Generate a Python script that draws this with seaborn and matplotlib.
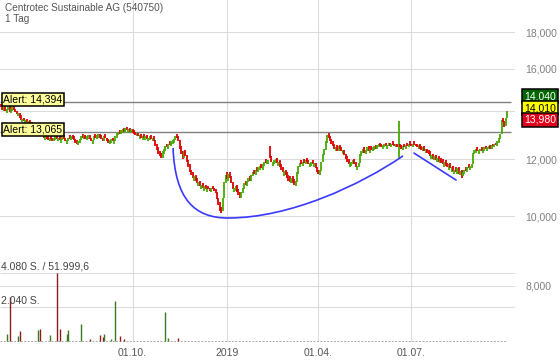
import matplotlib
matplotlib.use("Agg")
import matplotlib.pyplot as plt
from matplotlib.path import Path
from matplotlib.patches import PathPatch
from matplotlib.ticker import FixedLocator, NullLocator
import numpy as np
import pandas as pd
import seaborn as sns

TITLE = "Centrotec Sustainable AG (540750)"
PERIOD = "1 Tag"
START_DATE = "2018-05-24"

# daily open / close, one row = 10 trading days
OPENS = [
    14.3, 14.25, 14.0, 14.25, 13.9, 14.05, 14.2, 13.9, 14.0, 14.25,
    14.1, 14.0, 13.75, 13.9, 13.8, 13.5, 13.7, 13.45, 13.65, 13.4,
    13.6, 13.35, 13.5, 13.4, 13.15, 13.3, 13.0, 13.2, 13.1, 12.9,
    13.05, 12.75, 12.95, 12.9, 12.7, 12.95, 12.85, 12.7, 12.75, 12.95,
    12.7, 12.9, 12.65, 12.75, 12.95, 12.85, 12.6, 12.7, 12.95, 12.75,
    12.95, 12.9, 12.8, 12.75, 12.55, 12.65, 12.75, 13.0, 12.8, 12.95,
    12.75, 12.8, 12.95, 12.85, 12.6, 12.75, 13.0, 12.8, 12.85, 13.0,
    12.95, 12.85, 12.7, 13.0, 12.85, 12.8, 12.6, 12.65, 12.85, 12.6,
    12.7, 12.85, 12.95, 13.15, 13.0, 13.05, 13.25, 13.1, 13.3, 13.05,
    13.25, 13.05, 13.2, 13.15, 13.1, 12.9, 13.05, 12.8, 13.0, 12.75,
    13.0, 12.75, 12.95, 12.7, 12.75, 12.95, 12.7, 12.9, 12.75, 12.6,
    12.45, 12.3, 12.25, 12.05, 12.2, 12.3, 12.6, 12.4, 12.7, 12.5,
    12.6, 12.65, 12.75, 13.0, 12.9, 12.75, 12.5, 12.3, 12.05, 12.35,
    12.15, 11.95, 11.8, 11.6, 11.5, 11.2, 11.4, 11.3, 11.0, 11.2,
    10.9, 11.1, 10.85, 11.05, 10.8, 11.0, 10.95, 10.8, 11.0, 10.95,
    10.9, 10.8, 10.6, 10.45, 10.3, 10.15, 10.6, 11.1, 11.5, 11.2,
    11.5, 11.35, 11.15, 10.8, 10.85, 11.05, 10.9, 10.8, 10.6, 10.75,
    10.9, 11.2, 11.0, 11.15, 11.35, 11.2, 11.35, 11.6, 11.4, 11.7,
    11.5, 11.6, 11.8, 11.6, 11.75, 12.0, 11.8, 11.8, 12.5, 12.1,
    11.75, 11.8, 11.85, 12.05, 11.75, 11.95, 11.8, 11.7, 11.35, 11.6,
    11.5, 11.4, 11.35, 11.1, 11.35, 11.25, 11.0, 11.15, 11.45, 11.7,
    11.95, 11.75, 12.0, 11.8, 12.05, 11.95, 11.7, 11.75, 11.95, 11.7,
    11.85, 11.7, 11.6, 11.4, 11.55, 11.9, 12.15, 12.35, 12.65, 13.05,
    12.9, 12.8, 12.7, 12.6, 12.3, 12.55, 12.3, 12.55, 12.45, 12.2,
    12.35, 12.2, 12.1, 12.0, 11.7, 11.75, 11.8, 12.0, 11.9, 11.6,
    11.7, 11.85, 12.1, 12.25, 12.45, 12.2, 12.3, 12.5, 12.25, 12.5,
    12.3, 12.35, 12.55, 12.4, 12.45, 12.65, 12.6, 12.4, 12.45, 12.65,
    12.4, 12.5, 12.65, 12.45, 12.7, 12.6, 12.45, 12.6, 12.05, 12.6,
    12.55, 12.35, 12.6, 12.4, 12.65, 12.45, 12.7, 12.6, 12.45, 12.7,
    12.6, 12.6, 12.4, 12.6, 12.5, 12.3, 12.5, 12.25, 12.4, 12.35,
    12.3, 12.0, 12.2, 11.95, 12.15, 11.9, 12.1, 11.85, 12.05, 12.0,
    11.7, 11.95, 11.85, 11.6, 11.85, 11.5, 11.75, 11.45, 11.7, 11.45,
    11.7, 11.4, 11.6, 11.35, 11.45, 11.7, 11.5, 11.8, 11.6, 11.65,
    11.8, 12.2, 12.25, 12.45, 12.2, 12.3, 12.45, 12.25, 12.3, 12.5,
    12.3, 12.4, 12.55, 12.4, 12.6, 12.45, 12.65, 12.5, 12.65, 12.8,
    13.0, 13.7, 13.55, 13.35, 13.7,
]
CLOSES = [
    14.15, 14.05, 14.2, 14.0, 14.1, 14.25, 13.95, 14.1, 14.2, 14.05,
    13.95, 13.85, 13.9, 13.7, 13.6, 13.65, 13.55, 13.6, 13.5, 13.55,
    13.45, 13.5, 13.35, 13.2, 13.3, 13.1, 13.15, 13.0, 12.95, 13.05,
    12.85, 12.9, 12.8, 12.75, 12.85, 12.8, 12.7, 12.85, 12.9, 12.8,
    12.85, 12.75, 12.8, 12.9, 12.8, 12.7, 12.75, 12.85, 12.8, 12.9,
    12.8, 12.75, 12.65, 12.6, 12.7, 12.8, 12.9, 12.85, 12.95, 12.8,
    12.9, 12.95, 12.8, 12.7, 12.75, 12.9, 12.85, 12.95, 13.0, 12.85,
    12.8, 12.7, 12.9, 12.85, 12.7, 12.65, 12.75, 12.8, 12.7, 12.75,
    12.9, 13.05, 13.1, 13.0, 13.15, 13.2, 13.1, 13.25, 13.15, 13.2,
    13.1, 13.2, 13.05, 13.0, 12.95, 13.05, 12.9, 12.95, 12.85, 12.9,
    12.85, 12.9, 12.8, 12.85, 12.9, 12.8, 12.85, 12.7, 12.5, 12.35,
    12.2, 12.1, 12.05, 12.3, 12.4, 12.5, 12.45, 12.6, 12.55, 12.7,
    12.75, 12.8, 12.9, 12.85, 12.7, 12.4, 12.2, 12.0, 12.3, 12.1,
    11.9, 11.7, 11.5, 11.4, 11.3, 11.35, 11.2, 11.1, 11.15, 11.0,
    11.05, 10.95, 11.0, 10.9, 10.95, 10.9, 10.85, 10.95, 10.9, 10.85,
    10.75, 10.55, 10.35, 10.15, 10.1, 10.6, 11.15, 11.4, 11.25, 11.45,
    11.3, 11.1, 10.9, 10.95, 11.0, 10.8, 10.7, 10.6, 10.8, 10.95,
    11.1, 11.05, 11.2, 11.3, 11.2, 11.4, 11.5, 11.45, 11.6, 11.55,
    11.7, 11.75, 11.65, 11.8, 11.9, 11.85, 11.95, 11.95, 12.05, 11.9,
    11.9, 11.95, 12.0, 11.85, 11.9, 11.7, 11.6, 11.5, 11.55, 11.4,
    11.3, 11.2, 11.15, 11.3, 11.1, 11.05, 11.2, 11.5, 11.75, 11.85,
    11.8, 11.9, 11.85, 11.95, 11.9, 11.8, 11.85, 11.9, 11.8, 11.85,
    11.65, 11.5, 11.45, 11.6, 11.9, 12.2, 12.4, 12.7, 12.95, 12.85,
    12.7, 12.6, 12.5, 12.4, 12.45, 12.3, 12.5, 12.4, 12.3, 12.35,
    12.15, 12.0, 11.9, 11.8, 11.85, 11.9, 11.95, 11.8, 11.7, 11.75,
    11.85, 12.2, 12.3, 12.4, 12.25, 12.35, 12.45, 12.3, 12.4, 12.35,
    12.45, 12.5, 12.4, 12.55, 12.6, 12.5, 12.45, 12.55, 12.6, 12.5,
    12.55, 12.65, 12.5, 12.6, 12.55, 12.5, 12.6, 12.45, 13.55, 12.45,
    12.4, 12.5, 12.45, 12.55, 12.5, 12.6, 12.55, 12.5, 12.6, 12.55,
    12.5, 12.45, 12.55, 12.4, 12.35, 12.45, 12.3, 12.4, 12.25, 12.2,
    12.1, 12.15, 12.0, 12.1, 11.95, 12.05, 11.9, 12.0, 11.85, 11.8,
    11.9, 11.75, 11.7, 11.8, 11.65, 11.7, 11.55, 11.6, 11.5, 11.65,
    11.45, 11.55, 11.3, 11.5, 11.6, 11.55, 11.7, 11.65, 11.75, 11.8,
    12.25, 12.35, 12.4, 12.3, 12.35, 12.4, 12.3, 12.35, 12.45, 12.4,
    12.45, 12.5, 12.4, 12.55, 12.5, 12.6, 12.55, 12.7, 12.85, 13.0,
    13.6, 13.5, 13.3, 13.7, 14.01,
]

# volume (shares) on the few days that show a volume bar
VOL_DAYS = [4, 6, 12, 13, 26, 27, 34, 39, 41, 46, 47, 56, 62, 69, 71, 72,
            77, 80, 83, 86, 115, 117, 124]
VOL_SHARES = [420, 2650, 300, 600, 680, 720, 350, 4080, 700, 400, 650, 1000,
              100, 350, 250, 400, 120, 2400, 300, 100, 1750, 200, 180]
VOL_TICKS = [2040, 4080]
VOL_TURNOVER = "51.999,6"

PRICE_TICKS = [8, 10, 12, 14, 16, 18]
ALERTS = [14.394, 13.065]
QUOTES = [14.040, 14.010, 13.980]
QUOTE_COLORS = [("#006400", "white"), ("#ffff00", "black"), ("#e0001b", "white")]

TICK_DATES = ["2018-10-01", "2019-01-01", "2019-04-01", "2019-07-01"]
TICK_LABELS = ["01.10.", "2019", "01.04.", "01.07."]

# hand-drawn trend marks (trading-day index, price)
CUP_X = [120.3, 121.7, 135.7, 158.7, 202.1, 251.1, 281.1]
CUP_Y = [12.43, 10.53, 9.94, 9.94, 9.94, 11.04, 12.12]
LINE_X = [288.8, 318.2]
LINE_Y = [12.23, 11.22]

UP = "#44aa00"
DOWN = "#dd0000"
GRID = "#dcdcdc"


def de_num(v, nd=3):
    return f"{v:,.{nd}f}".replace(",", "X").replace(".", ",").replace("X", ".")


sns.set_theme(style="white")
plt.rcParams["font.family"] = ["Liberation Sans", "DejaVu Sans"]

fig = plt.figure(figsize=(5.6, 3.62), dpi=100)
ax = fig.add_axes([0, 20 / 362, 515 / 560, 342 / 362])
vax = ax.twinx()

dates = pd.bdate_range(START_DATE, periods=len(CLOSES))
x = np.arange(len(CLOSES))
opens = np.array(OPENS)
closes = np.array(CLOSES)
colors = np.where(closes >= opens, UP, DOWN)

ax.set_yscale("log")
ax.set_ylim(6.69, 19.94)
ax.set_xlim(-0.7, 359.4)

ax.vlines(x, opens, closes, colors=colors, linewidth=1.3, zorder=3)

# alerts
for a in ALERTS:
    ax.hlines(a, -0.7, len(CLOSES) + 1.5, color="#808080", lw=1.0, zorder=2)
    ax.annotate(f"Alert: {de_num(a)}", xy=(0, a), xycoords=ax.get_yaxis_transform(),
                xytext=(2.5, 2), textcoords="offset points", ha="left", va="center",
                fontsize=7.5, color="black", zorder=6,
                bbox=dict(boxstyle="square,pad=0.12", fc="#ffff99", ec="black", lw=1.1))

# trend marks
verts = list(zip(CUP_X, CUP_Y))
codes = [Path.MOVETO] + [Path.CURVE4] * 6
ax.add_patch(PathPatch(Path(verts, codes), fc="none", ec="#3a3aff", lw=1.2, zorder=4))
ax.plot(LINE_X, LINE_Y, color="#3a3aff", lw=1.2, zorder=4)

# axes styling (after twinx, which moves ticks to the left)
ax.yaxis.tick_right()
ax.yaxis.set_major_locator(FixedLocator(PRICE_TICKS))
ax.yaxis.set_minor_locator(NullLocator())
# the tick next to the last price sits under the quote boxes
ax.set_yticklabels(["" if abs(v - CLOSES[-1]) < 0.5 else de_num(v) for v in PRICE_TICKS])
tick_pos = dates.searchsorted(pd.to_datetime(TICK_DATES))
ax.set_xticks(tick_pos)
ax.set_xticklabels(TICK_LABELS)
ax.tick_params(axis="y", length=0, pad=7.2, labelsize=7.5, labelcolor="#808080",
               left=False, labelleft=False, right=True, labelright=True)
ax.tick_params(axis="x", length=0, pad=4, labelsize=7.5, labelcolor="#555555")
ax.grid(True, color=GRID, lw=0.8)
ax.set_axisbelow(True)
for s in ax.spines.values():
    s.set_visible(False)

# last quote boxes
for i, (q, (bg, fg)) in enumerate(zip(QUOTES, QUOTE_COLORS)):
    ax.annotate(de_num(q), xy=(1, CLOSES[-1]), xycoords=ax.get_yaxis_transform(),
                xytext=(6.5, 1.8 + (1 - i) * 8.4), textcoords="offset points",
                ha="left", va="center", fontsize=7.5, color=fg, zorder=10,
                annotation_clip=False,
                bbox=dict(boxstyle="square,pad=0.2", fc=bg, ec="black", lw=1.1))

# volume panel
vax.set_ylim(-60, 4080 * 342 / 68)
vax.set_xlim(ax.get_xlim())
vol_colors = ["#3c7a1e" if closes[d] >= opens[d] else "#8b1c1c" for d in VOL_DAYS]
vax.vlines(VOL_DAYS, 0, VOL_SHARES, colors=vol_colors, lw=1.0, zorder=3)
vax.hlines(VOL_TICKS, -0.7, 359.4, color=GRID, lw=0.8, zorder=1)
vax.hlines(0, -0.7, len(CLOSES) - 1, color="#aaaaaa", lw=0.7, ls=(0, (2, 1.5)), zorder=2)
vol_labels = [f"{de_num(v, 0)} S." for v in VOL_TICKS]
vol_labels[-1] += f" / {VOL_TURNOVER}"
for v, lab in zip(VOL_TICKS, vol_labels):
    vax.annotate(lab, xy=(0, v), xycoords=vax.get_yaxis_transform(),
                 xytext=(0.8, 4.5), textcoords="offset points", ha="left", va="center",
                 fontsize=7.5, color="#444444")
vax.set_yticks([])
vax.grid(False)
for s in vax.spines.values():
    s.set_visible(False)

fig.text(5 / 560, 1 - 8 / 362, TITLE, fontsize=7.2, color="#555555", va="center")
fig.text(5 / 560, 1 - 19 / 362, PERIOD, fontsize=7.2, color="#555555", va="center")

fig.savefig("out.png", dpi=100)
